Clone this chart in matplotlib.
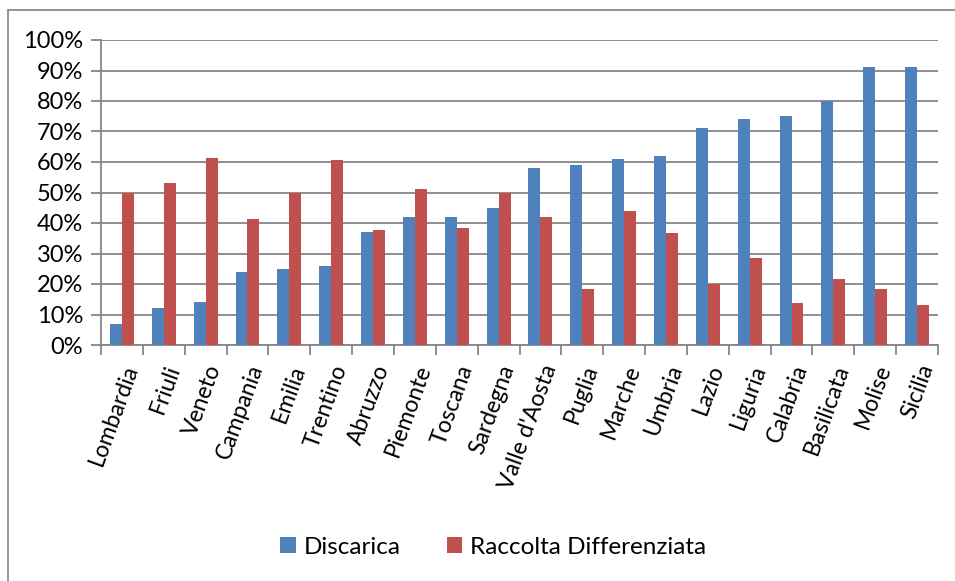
import matplotlib
matplotlib.use("Agg")
import matplotlib.pyplot as plt
import numpy as np
from matplotlib.patches import Rectangle
from matplotlib.ticker import FuncFormatter, MultipleLocator

regions = ["Lombardia", "Friuli", "Veneto", "Campania", "Emilia", "Trentino",
           "Abruzzo", "Piemonte", "Toscana", "Sardegna", "Valle d'Aosta",
           "Puglia", "Marche", "Umbria", "Lazio", "Liguria", "Calabria",
           "Basilicata", "Molise", "Sicilia"]
discarica = [7, 12, 14, 24, 25, 26, 37, 42, 42, 45, 58, 59, 61, 62, 71, 74,
             75, 80, 91, 91]
raccolta = [50, 53, 61.2, 41.3, 50, 60.5, 37.8, 51.3, 38.4, 49.7, 41.9, 18.3,
            43.9, 36.7, 20.1, 28.5, 13.7, 21.8, 18.3, 13.2]
series_names = ["Discarica", "Raccolta Differenziata"]

plt.rcParams['font.family'] = ['Lato', 'DejaVu Sans']

W, H = 955, 581
fig = plt.figure(figsize=(W / 100, H / 100), dpi=100)
ax = fig.add_axes([101 / W, 1 - 345 / H, (938 - 101) / W, (345 - 40) / H])

grid_c = "#868686"
x = np.arange(len(regions))
bw = 0.2857
ax.bar(x - bw / 2, discarica, bw, color="#4F81BD", label=series_names[0],
       zorder=3)
ax.bar(x + bw / 2, raccolta, bw, color="#C0504D", label=series_names[1],
       zorder=3)

ax.set_xlim(-0.5, len(regions) - 0.5)
ax.set_ylim(0, 100)
ax.yaxis.set_major_locator(MultipleLocator(10))
ax.yaxis.set_major_formatter(FuncFormatter(lambda v, p: f"{v:.0f}%"))
ax.grid(axis="y", color=grid_c, linewidth=1.3, zorder=0)
ax.set_axisbelow(True)

for s in ["top", "right"]:
    ax.spines[s].set_visible(False)
for s in ["left", "bottom"]:
    ax.spines[s].set_color(grid_c)
    ax.spines[s].set_linewidth(1.3)

ax.set_xticks(np.arange(len(regions) + 1) - 0.5, minor=False)
ax.set_xticklabels([])
ax.set_xticks(x, minor=True)
ax.set_xticklabels(regions, minor=True, rotation=70, ha="right",
                   rotation_mode="anchor", fontsize=16.5, color="black")
ax.tick_params(axis="x", which="major", length=7, width=1.3, color=grid_c)
ax.tick_params(axis="x", which="minor", length=0, pad=12)
ax.tick_params(axis="y", length=7, width=1.3, color=grid_c, labelsize=17,
               pad=6)

leg = fig.legend(loc="center", bbox_to_anchor=(493 / W, 1 - 547 / H),
                 ncol=2, frameon=False, fontsize=17.5, handlelength=0.65,
                 handleheight=0.65, handletextpad=0.3, columnspacing=1.9)

fig.patches.append(Rectangle((8 / W, -0.1), 1.2, 1 - 10 / H + 0.1,
                             transform=fig.transFigure, fill=False,
                             edgecolor="#8c8c8c", linewidth=1.3))

fig.savefig("out.png", dpi=100)
